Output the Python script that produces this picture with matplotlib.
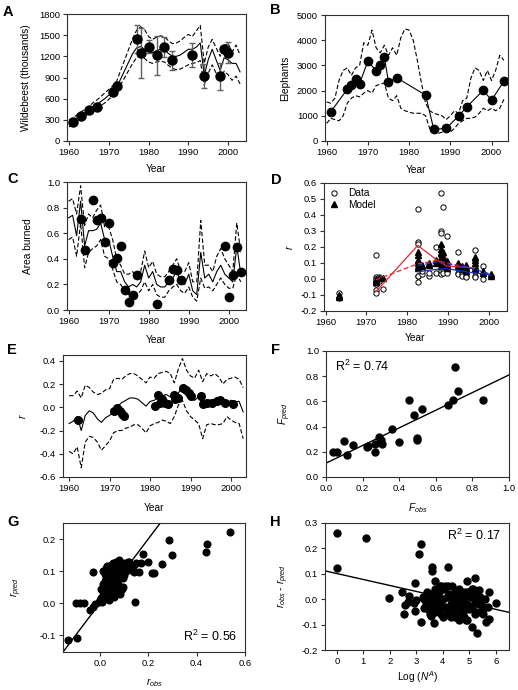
#!/usr/bin/env python

import numpy as np
import matplotlib
matplotlib.use('Agg')

from matplotlib import pyplot as plt
from matplotlib.lines import Line2D

plt.rcParams['font.family'] = ['Liberation Sans', 'DejaVu Sans']
plt.rcParams['mathtext.fontset'] = 'custom'
plt.rcParams['mathtext.rm'] = 'Liberation Sans'
plt.rcParams['mathtext.it'] = 'Liberation Sans:italic'
plt.rcParams['axes.unicode_minus'] = False

W, H = 518, 690
FS = 7.3     # axis labels
TFS = 6.8    # tick labels

years = np.arange(1960, 2004)

# --- A: wildebeest
wb_year = [1961, 1963, 1965, 1967, 1971, 1972, 1977, 1978, 1980, 1982, 1984, 1986,
           1991, 1994, 1998, 1999, 2000]
wb_count = [263, 357, 439, 483, 693, 773, 1444, 1249, 1338, 1212, 1337, 1146,
            1221, 917, 917, 1300, 1250]
wb_err = [0, 0, 0, 0, 0, 0, 200, 350, 90, 275, 140, 135, 175, 170, 195, 0, 150]
wb_mid = [240, 280, 320, 360, 400, 440, 480, 520, 560, 600, 650, 690, 760, 880, 1000,
          1120, 1240, 1320, 1340, 1300, 1260, 1250, 1280, 1300, 1290, 1240, 1200, 1200,
          1220, 1260, 1300, 1300, 1330, 1390, 930, 1150, 1300, 1150, 1000, 1180, 1150,
          1100, 1100, 980]
wb_hi = [300, 330, 370, 410, 450, 490, 540, 580, 630, 680, 730, 780, 850, 1000, 1150,
         1300, 1450, 1570, 1620, 1580, 1480, 1440, 1470, 1490, 1480, 1420, 1380, 1390,
         1420, 1470, 1510, 1480, 1560, 1640, 1100, 1330, 1440, 1320, 1200, 1350, 1380,
         1260, 1360, 1220]
wb_lo = [200, 240, 280, 320, 350, 390, 430, 460, 500, 540, 590, 640, 700, 800, 900,
         1000, 1100, 1180, 1200, 1170, 1120, 1100, 1120, 1130, 1120, 1070, 1030, 1010,
         1020, 1050, 1080, 1100, 1110, 1140, 800, 960, 1080, 960, 850, 990, 940, 860,
         920, 810]

# --- B: elephants
el_year = [1961, 1965, 1966, 1967, 1968, 1970, 1972, 1973, 1974, 1975, 1977, 1984,
           1986, 1989, 1992, 1994, 1998, 2000, 2003]
el_count = [1158, 2050, 2210, 2470, 2280, 3170, 2780, 3000, 3330, 2340, 2510, 1820,
            460, 500, 990, 1355, 2010, 1620, 2370]
el_hi = [1550, 1500, 1700, 2400, 2800, 2900, 2600, 2900, 3000, 3900, 3800, 4400, 3700,
         3500, 3800, 3400, 3700, 3400, 4100, 4450, 4400, 4000, 3200, 2300, 1500, 1200,
         1100, 1050, 1000, 850, 1000, 1200, 1100, 1600, 1700, 2500, 2900, 2800, 2400,
         2800, 2400, 2800, 3400, 3200]
el_lo = [700, 900, 850, 800, 1000, 1500, 1700, 1800, 1750, 1900, 2000, 1900, 2200, 2250,
         2300, 1700, 1600, 1800, 1300, 1200, 1150, 1100, 1100, 1100, 1000, 500, 350, 300,
         350, 400, 350, 500, 700, 800, 900, 900, 950, 1100, 1300, 1200, 1300, 1200, 1300,
         1650]

# --- C: area burned
fire_year = [1963, 1964, 1966, 1967, 1968, 1969, 1970, 1971, 1972, 1973, 1974, 1975,
             1976, 1977, 1982, 1985, 1986, 1987, 1988, 1999, 2000, 2001, 2002, 2003]
fire_area = [0.71, 0.465, 0.86, 0.70, 0.72, 0.535, 0.68, 0.37, 0.41, 0.50, 0.16, 0.065,
             0.12, 0.27, 0.05, 0.235, 0.32, 0.31, 0.235, 0.50, 0.105, 0.27, 0.495, 0.295]
fire_mid = [0.72, 0.74, 0.58, 0.85, 0.50, 0.62, 0.62, 0.63, 0.68, 0.55, 0.55, 0.42, 0.30,
            0.30, 0.22, 0.18, 0.20, 0.18, 0.22, 0.35, 0.25, 0.30, 0.20, 0.18, 0.18, 0.22,
            0.25, 0.30, 0.22, 0.20, 0.28, 0.15, 0.12, 0.45, 0.25, 0.28, 0.22, 0.30, 0.35,
            0.28, 0.25, 0.22, 0.50, 0.28]
fire_hi = [0.85, 0.87, 0.75, 0.97, 0.66, 0.75, 0.72, 0.78, 0.82, 0.65, 0.65, 0.55, 0.40,
           0.35, 0.28, 0.28, 0.30, 0.26, 0.30, 0.46, 0.33, 0.38, 0.28, 0.26, 0.26, 0.30,
           0.35, 0.40, 0.30, 0.30, 0.37, 0.22, 0.22, 0.70, 0.35, 0.35, 0.30, 0.42, 0.48,
           0.40, 0.35, 0.30, 0.68, 0.45]
fire_lo = [0.55, 0.57, 0.42, 0.68, 0.33, 0.45, 0.48, 0.50, 0.55, 0.42, 0.40, 0.32, 0.22,
           0.20, 0.15, 0.12, 0.14, 0.12, 0.15, 0.22, 0.15, 0.20, 0.12, 0.10, 0.10, 0.15,
           0.18, 0.20, 0.15, 0.13, 0.18, 0.10, 0.07, 0.25, 0.17, 0.18, 0.15, 0.20, 0.25,
           0.20, 0.17, 0.17, 0.28, 0.22]

# --- D: growth rates, data and model
d_obs_year = [1963.3, 1963.3,
              1972.3, 1972.3, 1972.3, 1972.3, 1972.3, 1972.3, 1972.3, 1973.0, 1973.0, 1974.1,
              1982.6, 1982.6, 1982.6, 1982.6, 1982.6, 1982.6, 1982.6, 1983.6, 1983.6,
              1985.3, 1985.3, 1987.2, 1987.2,
              1988.2, 1988.2, 1988.2, 1988.2, 1988.2, 1988.2, 1988.2,
              1988.7, 1988.7, 1988.7, 1988.7, 1989.7, 1989.7, 1989.7, 1989.7,
              1992.5, 1992.5, 1992.5, 1992.5, 1993.5, 1993.5, 1993.5, 1994.5, 1994.5, 1994.5,
              1996.6, 1996.6, 1996.6, 1996.6, 1996.6, 1998.7, 1998.7, 2000.6]
d_obs_r = [-0.09, -0.12,
           0.15, 0.01, 0.0, -0.02, -0.03, -0.07, -0.09, 0.01, -0.01, -0.06,
           0.44, 0.23, 0.22, 0.10, 0.02, 0.02, -0.02, 0.03, 0.05,
           0.02, 0.04, 0.20, 0.04,
           0.54, 0.30, 0.29, 0.15, 0.10, 0.05, 0.03,
           0.45, 0.13, 0.06, 0.04, 0.27, 0.09, 0.05, 0.04,
           0.17, 0.07, 0.04, 0.03, 0.05, 0.03, 0.02, 0.06, 0.02, 0.01,
           0.18, 0.12, 0.05, 0.02, 0.01, 0.08, 0.0, 0.02]
d_mod_year = [1963.3, 1963.3, 1972.3, 1972.3, 1972.3, 1973.0, 1974.1,
              1982.6, 1982.6, 1982.6, 1982.6, 1982.6, 1982.6, 1983.6, 1983.6,
              1985.3, 1985.3, 1987.2, 1987.2,
              1988.2, 1988.2, 1988.2, 1988.2, 1988.2, 1988.2, 1988.2,
              1988.7, 1988.7, 1988.7, 1989.7, 1989.7, 1989.7,
              1992.5, 1992.5, 1993.5, 1993.5, 1994.5, 1994.5, 1994.5,
              1996.6, 1996.6, 1996.6, 1996.6, 1996.6, 1998.7, 1998.7, 2000.6, 2000.6]
d_mod_r = [-0.10, -0.11, 0.0, -0.01, -0.02, 0.005, 0.005,
           0.17, 0.15, 0.12, 0.10, 0.08, 0.07, 0.09, 0.08,
           0.10, 0.09, 0.12, 0.10,
           0.22, 0.19, 0.16, 0.14, 0.12, 0.10, 0.08,
           0.17, 0.13, 0.11, 0.11, 0.09, 0.07,
           0.10, 0.08, 0.08, 0.06, 0.09, 0.07, 0.05,
           0.14, 0.12, 0.10, 0.08, 0.06, 0.05, 0.04, 0.03, 0.02]
red_year = [1972.3, 1982.6, 1987.2, 1989.7, 1996.6]
red_obs = [-0.08, 0.21, 0.12, 0.08, 0.07]
red_mod = [-0.005, 0.095, 0.115, 0.10, 0.065]
blue_year = [1982.6, 1987.2, 1989.7, 1994.5, 2000.6]
blue_obs = [0.045, 0.06, 0.065, 0.045, 0.025]
blue_mod = [0.085, 0.105, 0.095, 0.075, 0.03]

# --- E: predicted r through time
e_year = [1962.3, 1971.2, 1971.8, 1972.2, 1972.6, 1973.0, 1973.6, 1981.2, 1982.0,
          1982.5, 1982.9, 1983.7, 1984.5, 1985.8, 1986.2, 1987.0, 1988.2, 1988.8,
          1989.5, 1990.0, 1992.5, 1993.2, 1994.0, 1995.2, 1996.5, 1997.3, 1998.5, 2000.6]
e_r = [-0.11, -0.036, -0.008, -0.02, -0.036, -0.055, -0.075, 0.008, 0.11, 0.04, 0.07,
       0.04, 0.03, 0.11, 0.07, 0.08, 0.17, 0.15, 0.12, 0.10, 0.10, 0.03, 0.04, 0.04,
       0.05, 0.06, 0.04, 0.03]
e_mid = [-0.14, -0.12, -0.08, -0.20, -0.07, -0.03, -0.05, -0.10, -0.13, -0.09, -0.07,
         -0.04, 0.01, 0.04, 0.06, 0.08, 0.08, 0.07, 0.04, 0.01, 0.05, 0.06, 0.08, 0.10,
         0.11, 0.09, 0.06, 0.12, 0.19, 0.14, 0.08, 0.06, 0.09, 0.02, 0.06, 0.06, 0.07,
         0.06, 0.04, 0.04, 0.06, 0.05, 0.05, -0.04]
e_hi = [0.10, 0.10, 0.14, 0.08, 0.19, 0.17, 0.13, 0.11, 0.12, 0.15, 0.16, 0.24, 0.25,
        0.24, 0.27, 0.29, 0.29, 0.27, 0.24, 0.21, 0.26, 0.25, 0.29, 0.30, 0.31, 0.29,
        0.21, 0.33, 0.42, 0.32, 0.27, 0.25, 0.32, 0.22, 0.29, 0.27, 0.29, 0.26, 0.20,
        0.24, 0.25, 0.26, 0.24, 0.17]
e_lo = [-0.38, -0.40, -0.34, -0.52, -0.30, -0.25, -0.26, -0.30, -0.37, -0.33, -0.29,
        -0.22, -0.20, -0.20, -0.18, -0.17, -0.15, -0.15, -0.18, -0.22, -0.16, -0.14,
        -0.13, -0.11, -0.12, -0.14, -0.08, 0.02, 0.06, -0.03, -0.08, -0.11, -0.14, -0.27,
        -0.15, -0.14, -0.15, -0.15, -0.14, -0.08, -0.11, -0.13, -0.14, -0.27]

# --- F: observed vs predicted fire
f_obs = [0.04, 0.058, 0.098, 0.117, 0.146, 0.226, 0.228, 0.268, 0.27, 0.29, 0.30, 0.308,
         0.359, 0.40, 0.455, 0.48, 0.495, 0.497, 0.526, 0.668, 0.696, 0.703, 0.72, 0.86]
f_pred = [0.198, 0.198, 0.288, 0.174, 0.256, 0.235, 0.248, 0.195, 0.264, 0.314, 0.296,
          0.261, 0.38, 0.277, 0.61, 0.49, 0.306, 0.29, 0.538, 0.57, 0.612, 0.87, 0.683, 0.61]
f_fit = (0.11, 0.70)  # intercept, slope

# --- G: observed vs predicted r
g_obs = [-0.132, -0.093, -0.097, -0.081, -0.066, -0.03, -0.04, -0.029, -0.018, -0.004,
         0.005, 0.147, 0.179, 0.20, 0.214, 0.225, 0.259, 0.284, 0.30, 0.437, 0.444, 0.54,
         0.163, 0.142, 0.17, 0.129, 0.115, 0.101, 0.081, 0.095, 0.084, 0.101,
         0.01, 0.015, 0.02, 0.02, 0.025, 0.03, 0.03, 0.035, 0.035, 0.04, 0.04, 0.04, 0.045,
         0.045, 0.05, 0.05, 0.05, 0.055, 0.055, 0.06, 0.06, 0.06, 0.065, 0.065, 0.07, 0.07,
         0.075, 0.075, 0.08, 0.085, 0.09, 0.09, 0.10, 0.10, 0.11, 0.12, 0.13, 0.14, 0.15,
         0.025, 0.03, 0.035, 0.02, 0.025, 0.045, 0.055, 0.065, 0.03, 0.04, 0.06, 0.07, 0.08,
         0.015, 0.02, 0.05, 0.06, 0.07, 0.08, 0.045, 0.035, 0.01, 0.0, 0.005, 0.015, 0.095,
         0.11, 0.12, 0.10, 0.085, 0.075]
g_pred = [-0.114, -0.107, 0.0, 0.0, 0.0, 0.098, -0.021, -0.012, -0.001, 0.003,
          0.015, 0.003, 0.153, 0.13, 0.095, 0.095, 0.121, 0.196, 0.151, 0.161, 0.185, 0.221,
          0.098, 0.098, 0.125, 0.104, 0.13, 0.119, 0.135, 0.051, 0.03, 0.088,
          0.02, 0.035, 0.03, 0.05, 0.04, 0.06, 0.02, 0.07, 0.045, 0.08, 0.10, 0.055, 0.09,
          0.065, 0.11, 0.075, 0.035, 0.10, 0.06, 0.12, 0.085, 0.045, 0.10, 0.07, 0.115, 0.09,
          0.105, 0.06, 0.10, 0.12, 0.11, 0.045, 0.125, 0.095, 0.12, 0.13, 0.11, 0.12, 0.125,
          0.08, 0.09, 0.10, 0.07, 0.11, 0.12, 0.125, 0.13, 0.115, 0.01, 0.02, 0.03, 0.035,
          0.06, 0.09, 0.095, 0.105, 0.075, 0.08, 0.025, 0.025, 0.005, 0.01, 0.045, 0.10,
          0.08, 0.10, 0.11, 0.11, 0.09, 0.04]

# --- H: residuals vs log abundance
h_logn = [0.0, 0.0, 1.1, 1.95, 2.46, 2.59, 2.55, 2.74, 2.93, 2.94, 2.94, 3.16, 3.09,
          3.19, 3.6, 3.6, 4.19, 3.28, 3.47, 3.66, 3.54, 3.72, 3.91, 3.85, 4.04, 4.36, 4.48,
          4.61, 4.92, 5.21, 5.37, 5.74, 6.02, 5.11, 5.3, 5.74, 4.86, 4.61,
          3.3, 3.35, 3.4, 3.45, 3.5, 3.55, 3.6, 3.65, 3.7, 3.75, 3.8, 3.85, 3.9, 3.95,
          4.0, 4.05, 4.1, 4.15, 4.2, 4.25, 4.3, 4.35, 4.4, 4.45, 4.5, 4.55, 4.6, 4.65,
          4.7, 4.75, 4.8, 4.85, 4.9, 4.95, 5.0, 5.05, 5.1, 5.15, 5.2, 5.25, 5.3, 5.35,
          5.4, 5.5, 5.6, 5.7, 3.4, 3.6, 3.8, 4.0, 4.2, 4.4, 4.6, 4.8, 5.0, 5.2, 5.4,
          3.5, 3.7, 3.9, 4.1, 4.3, 4.5, 4.7, 4.9, 5.1, 5.3, 5.5, 4.25, 4.75, 5.25, 5.65,
          3.95, 4.45, 4.95, 5.45, 2.7, 3.0, 3.25]
h_resid = [0.262, 0.122, 0.24, 0.003, 0.03, -0.022, -0.059, 0.013, -0.013, -0.046, 0.063,
           -0.088, 0.178, 0.217, 0.125, 0.112, 0.125, -0.033, 0.004, -0.092, -0.068, 0.07,
           0.05, -0.042, -0.068, 0.05, -0.016, 0.037, 0.07, 0.085, 0.037, 0.03, -0.013,
           -0.108, -0.132, -0.078, -0.082, -0.082,
           0.0, -0.02, 0.01, -0.04, -0.01, 0.02, -0.03, 0.0, -0.05, 0.01, -0.02, 0.03,
           -0.01, -0.06, 0.0, 0.04, -0.03, 0.01, -0.05, 0.02, -0.02, 0.0, -0.04, 0.03,
           -0.01, -0.06, 0.02, -0.03, 0.01, -0.05, 0.0, 0.03, -0.02, 0.02, -0.04, 0.01,
           -0.03, 0.04, -0.01, -0.05, 0.02, -0.02, 0.01, -0.04, 0.0, -0.03,
           0.03, -0.05, 0.02, -0.07, 0.05, -0.06, 0.04, -0.07, 0.03, -0.06, -0.05,
           -0.06, 0.04, -0.03, 0.05, -0.07, 0.01, -0.02, -0.08, 0.04, -0.01, -0.06, -0.05,
           -0.03, 0.02, -0.09, 0.05, -0.07, 0.03, -0.02, -0.01, -0.005, 0.01]
h_fit = (0.101, -0.0235)  # intercept, slope


def px_axes(fig, left, right, top, bottom):
    return fig.add_axes([left / W, 1 - bottom / H, (right - left) / W, (bottom - top) / H])


def style(ax):
    for s in ax.spines.values():
        s.set_linewidth(0.8)
        s.set_color('#303030')
    ax.tick_params(direction='out', length=3, width=0.8, labelsize=TFS,
                   top=False, right=False, pad=2, color='#303030')


def time_lines(ax, mid, hi, lo, x=years):
    ax.plot(x, mid, '-', color='black', lw=0.8, zorder=2)
    ax.plot(x, hi, '--', color='black', lw=0.8, dashes=(4, 2), zorder=2)
    ax.plot(x, lo, '--', color='black', lw=0.8, dashes=(4, 2), zorder=2)


def main():
    fig = plt.figure(figsize=(W / 100, H / 100), dpi=100)

    # A
    ax = px_axes(fig, 67, 246, 14, 141)
    style(ax)
    time_lines(ax, wb_mid, wb_hi, wb_lo)
    ax.errorbar(wb_year, wb_count, yerr=wb_err, fmt='none', ecolor='#606060',
                elinewidth=1, capsize=2.5, zorder=3)
    ax.plot(wb_year, wb_count, 'o', color='black', ms=6.5, zorder=4)
    ax.set_xlim(1959.5, 2004.5)
    ax.set_ylim(0, 1800)
    ax.set_xticks(range(1960, 2001, 10))
    ax.set_yticks(range(0, 1801, 300))
    ax.set_ylabel('Wildebeest (thousands)', fontsize=FS)
    ax.set_xlabel('Year', fontsize=FS)
    ax.yaxis.set_label_coords(-0.20, 0.5)
    ax.xaxis.set_label_coords(0.5, -0.18)

    # B
    ax = px_axes(fig, 325, 508, 15, 141)
    style(ax)
    ax.plot(years, el_hi, '--', color='black', lw=0.8, dashes=(4, 2))
    ax.plot(years, el_lo, '--', color='black', lw=0.8, dashes=(4, 2))
    ax.plot(el_year, el_count, '-o', color='black', lw=0.8, ms=6)
    ax.set_xlim(1959.6, 2004)
    ax.set_ylim(0, 5000)
    ax.set_xticks(range(1960, 2001, 10))
    ax.set_yticks(range(0, 5001, 1000))
    ax.set_ylabel('Elephants', fontsize=FS)
    ax.set_xlabel('Year', fontsize=FS)
    ax.yaxis.set_label_coords(-0.193, 0.5)
    ax.xaxis.set_label_coords(0.5, -0.19)

    # C
    ax = px_axes(fig, 67, 246, 182, 310)
    style(ax)
    time_lines(ax, fire_mid, fire_hi, fire_lo)
    ax.plot(fire_year, fire_area, 'o', color='black', ms=6, zorder=4)
    ax.set_xlim(1959.6, 2004.3)
    ax.set_ylim(0, 1)
    ax.set_xticks(range(1960, 2001, 10))
    ax.set_yticks(np.arange(0, 1.01, 0.2))
    ax.yaxis.set_major_formatter('{x:.1f}')
    ax.set_ylabel('Area burned', fontsize=FS)
    ax.set_xlabel('Year', fontsize=FS)
    ax.yaxis.set_label_coords(-0.19, 0.5)
    ax.xaxis.set_label_coords(0.5, -0.195)

    # D
    ax = px_axes(fig, 324, 507, 183, 311)
    style(ax)
    ax.plot(d_obs_year, d_obs_r, 'o', mfc='white', mec='black', mew=0.7, ms=3.8, zorder=2)
    ax.plot(d_mod_year, d_mod_r, '^', color='black', ms=3.8, zorder=3)
    ax.plot(red_year, red_obs, '-', color='#e8262a', lw=0.9, zorder=4)
    ax.plot(red_year, red_mod, '--', color='#e8262a', lw=0.9, dashes=(4, 2), zorder=4)
    ax.plot(blue_year, blue_obs, '-', color='#1f2bd0', lw=0.9, zorder=4)
    ax.plot(blue_year, blue_mod, '--', color='#1f2bd0', lw=0.9, dashes=(4, 2), zorder=4)
    ax.set_xlim(1959.6, 2004.5)
    ax.set_ylim(-0.2, 0.6)
    ax.set_xticks(range(1960, 2001, 10))
    ax.set_yticks(np.arange(-0.2, 0.61, 0.1))
    ax.yaxis.set_major_formatter('{x:.1f}')
    ax.set_ylabel('r', fontsize=FS, style='italic')
    ax.set_xlabel('Year', fontsize=FS)
    ax.yaxis.set_label_coords(-0.158, 0.5)
    ax.xaxis.set_label_coords(0.5, -0.17)
    handles = [Line2D([], [], ls='none', marker='o', mfc='white', mec='black', mew=0.7, ms=3.8),
               Line2D([], [], ls='none', marker='^', color='black', ms=3.8)]
    ax.legend(handles, ['Data', 'Model'], loc='upper left', frameon=False, fontsize=FS,
              handlelength=1.0, handletextpad=0.9, borderaxespad=0.2, borderpad=0.3,
              labelspacing=0.15)

    # E
    ax = px_axes(fig, 63, 246, 355, 477)
    style(ax)
    time_lines(ax, e_mid, e_hi, e_lo)
    ax.plot(e_year, e_r, 'o', color='black', ms=5.5, zorder=4)
    ax.set_xlim(1958.5, 2003.7)
    ax.set_ylim(-0.6, 0.45)
    ax.set_xticks(range(1960, 2001, 10))
    ax.set_yticks(np.arange(-0.6, 0.41, 0.2))
    ax.yaxis.set_major_formatter('{x:.1f}')
    ax.set_ylabel('r', fontsize=FS, style='italic')
    ax.set_xlabel('Year', fontsize=FS)
    ax.yaxis.set_label_coords(-0.19, 0.5)
    ax.xaxis.set_label_coords(0.5, -0.21)

    # F
    ax = px_axes(fig, 326, 509, 351, 477)
    style(ax)
    ax.plot(f_obs, f_pred, 'o', color='black', ms=5, zorder=3)
    fx = np.array([0.0, 1.0])
    ax.plot(fx, f_fit[0] + f_fit[1] * fx, '-', color='black', lw=1)
    ax.set_xlim(0, 1)
    ax.set_ylim(0, 1)
    ax.set_xticks(np.arange(0, 1.01, 0.2))
    ax.set_yticks(np.arange(0, 1.01, 0.2))
    ax.xaxis.set_major_formatter('{x:.1f}')
    ax.yaxis.set_major_formatter('{x:.1f}')
    ax.set_ylabel('$F_{pred}$', fontsize=FS)
    ax.set_xlabel('$F_{obs}$', fontsize=FS)
    ax.yaxis.set_label_coords(-0.18, 0.5)
    ax.xaxis.set_label_coords(0.5, -0.196)
    ax.text(0.05, 0.94, 'R$^2$ = 0.74', transform=ax.transAxes, fontsize=9, va='top')

    # G
    ax = px_axes(fig, 63, 245, 523, 652)
    style(ax)
    ax.plot(g_obs, g_pred, 'o', color='black', ms=4.8, zorder=3)
    gx = np.array([-0.15, 0.25])
    ax.plot(gx, gx, '-', color='black', lw=1)
    ax.set_xlim(-0.152, 0.6)
    ax.set_ylim(-0.152, 0.25)
    ax.set_xticks([0.0, 0.2, 0.4, 0.6])
    ax.set_yticks([-0.1, 0.0, 0.1, 0.2])
    ax.xaxis.set_major_formatter('{x:.1f}')
    ax.yaxis.set_major_formatter('{x:.1f}')
    ax.set_ylabel('$r_{pred}$', fontsize=FS)
    ax.set_xlabel('$r_{obs}$', fontsize=FS)
    ax.yaxis.set_label_coords(-0.214, 0.5)
    ax.xaxis.set_label_coords(0.5, -0.19)
    ax.text(0.96, 0.06, 'R$^2$ = 0.56', transform=ax.transAxes, fontsize=9,
            ha='right', va='bottom')

    # H
    ax = px_axes(fig, 325, 509, 523, 650)
    style(ax)
    ax.plot(h_logn, h_resid, 'o', color='black', ms=5, zorder=3)
    hx = np.array([-0.45, 6.5])
    ax.plot(hx, h_fit[0] + h_fit[1] * hx, '-', color='black', lw=1)
    ax.set_xlim(-0.45, 6.5)
    ax.set_ylim(-0.2, 0.3)
    ax.set_xticks(range(0, 7))
    ax.set_yticks(np.arange(-0.2, 0.31, 0.1))
    ax.yaxis.set_major_formatter('{x:.1f}')
    ax.set_ylabel('$r_{obs}$ - $r_{pred}$', fontsize=FS)
    ax.set_xlabel('Log ($N^{A}$)', fontsize=FS)
    ax.yaxis.set_label_coords(-0.183, 0.5)
    ax.xaxis.set_label_coords(0.5, -0.15)
    ax.text(0.96, 0.96, 'R$^2$ = 0.17', transform=ax.transAxes, fontsize=9,
            ha='right', va='top')

    letters = [('A', 3, 5), ('B', 270, 3), ('C', 7, 172), ('D', 271, 173),
               ('E', 7, 343), ('F', 271, 343), ('G', 7, 515), ('H', 270, 515)]
    for s, x, y in letters:
        fig.text(x / W, 1 - y / H, s, fontsize=10.5, fontweight='bold', ha='left', va='top')

    fig.savefig('out.png', dpi=100)


if __name__ == '__main__':
    main()
